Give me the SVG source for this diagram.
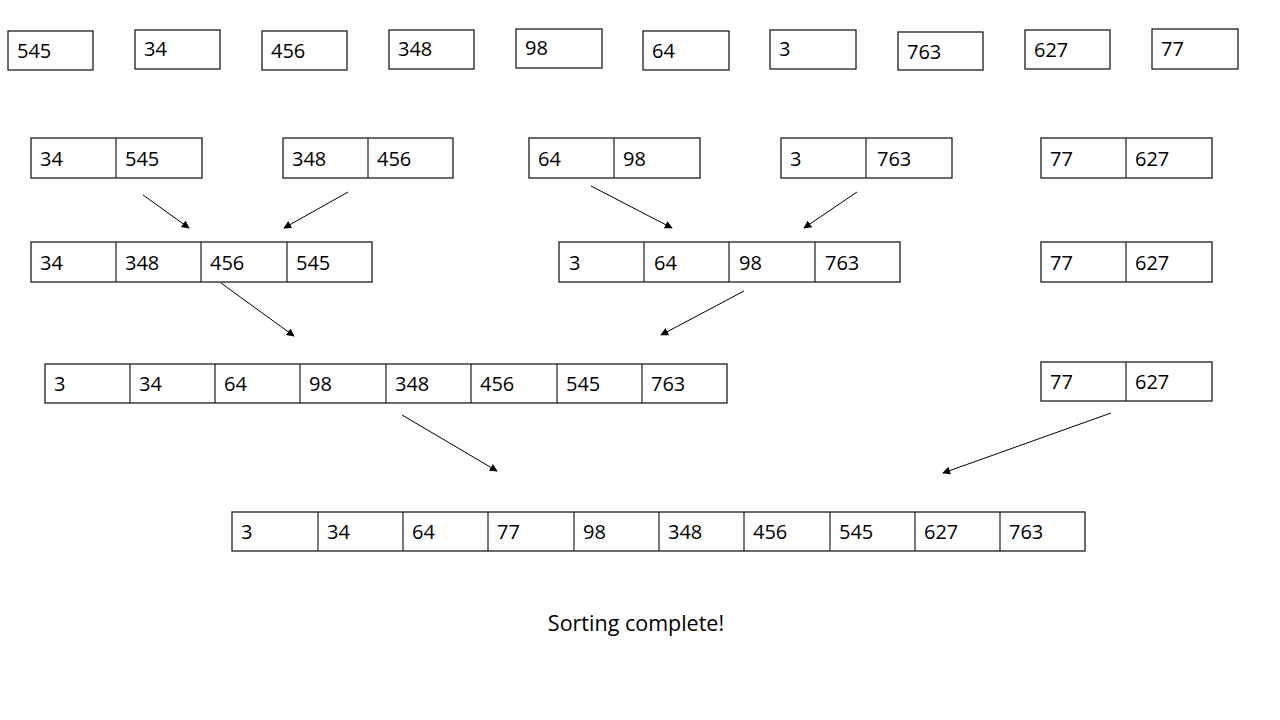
<svg xmlns="http://www.w3.org/2000/svg" width="1280" height="720" viewBox="0 0 1280 720">
  <defs>
    <marker id="arrow" viewBox="0 0 10 10" refX="9" refY="5" markerWidth="8" markerHeight="8" markerUnits="userSpaceOnUse" orient="auto">
      <path d="M0,0 L10,5 L0,10 z" fill="#000"/>
    </marker>
    <style>
      .cell { fill: #fff; stroke: #1e1e1e; stroke-width: 1.3; }
      .div { stroke: #1e1e1e; stroke-width: 1.2; }
      .num { font-family: "Open Sans", "Liberation Sans", sans-serif; font-size: 20px; fill: #000; }
      .caption { font-family: "Open Sans", "Liberation Sans", sans-serif; font-size: 21.5px; fill: #000; }
      .conn { stroke: #000; stroke-width: 1; fill: none; marker-end: url(#arrow); }
    </style>
  </defs>
  <rect width="1280" height="720" fill="#fff"/>

  <!-- Row 1: unsorted single values -->
  <g id="n545"><rect class="cell" x="8" y="31" width="85" height="39"/><text class="num" x="17" y="58">545</text></g>
  <g id="n34"><rect class="cell" x="135" y="30" width="85" height="39"/><text class="num" x="144" y="56">34</text></g>
  <g id="n456"><rect class="cell" x="262" y="31" width="85" height="39"/><text class="num" x="271" y="58">456</text></g>
  <g id="n348"><rect class="cell" x="389" y="30" width="85" height="39"/><text class="num" x="398" y="56">348</text></g>
  <g id="n98"><rect class="cell" x="516" y="29" width="86" height="39"/><text class="num" x="525" y="55">98</text></g>
  <g id="n64"><rect class="cell" x="643" y="31" width="86" height="39"/><text class="num" x="652" y="58">64</text></g>
  <g id="n3"><rect class="cell" x="770" y="30" width="86" height="39"/><text class="num" x="779" y="56">3</text></g>
  <g id="n763"><rect class="cell" x="898" y="32" width="85" height="38"/><text class="num" x="907" y="59">763</text></g>
  <g id="n627"><rect class="cell" x="1025" y="30" width="85" height="39"/><text class="num" x="1034" y="57">627</text></g>
  <g id="n77"><rect class="cell" x="1152" y="29" width="86" height="40"/><text class="num" x="1161" y="56">77</text></g>

  <!-- Row 2: sorted pairs -->
  <g id="p34-545"><rect class="cell" x="31" y="138" width="171" height="40"/><line class="div" x1="116" y1="138" x2="116" y2="178"/>
    <text class="num" x="40" y="166">34</text><text class="num" x="125" y="166">545</text></g>
  <g id="p348-456"><rect class="cell" x="283" y="138" width="170" height="40"/><line class="div" x1="368" y1="138" x2="368" y2="178"/>
    <text class="num" x="292" y="166">348</text><text class="num" x="377" y="166">456</text></g>
  <g id="p64-98"><rect class="cell" x="529" y="138" width="171" height="40"/><line class="div" x1="614" y1="138" x2="614" y2="178"/>
    <text class="num" x="538" y="166">64</text><text class="num" x="623" y="166">98</text></g>
  <g id="p3-763"><rect class="cell" x="781" y="138" width="171" height="40"/><line class="div" x1="866" y1="138" x2="866" y2="178"/>
    <text class="num" x="790" y="166">3</text><text class="num" x="877" y="166">763</text></g>
  <g id="p77-627a"><rect class="cell" x="1041" y="138" width="171" height="40"/><line class="div" x1="1126" y1="138" x2="1126" y2="178"/>
    <text class="num" x="1050" y="166">77</text><text class="num" x="1135" y="166">627</text></g>

  <!-- Row 3: sorted quadruples -->
  <g id="q-left"><rect class="cell" x="31" y="242" width="341" height="40"/>
    <line class="div" x1="116" y1="242" x2="116" y2="282"/><line class="div" x1="201" y1="242" x2="201" y2="282"/><line class="div" x1="287" y1="242" x2="287" y2="282"/>
    <text class="num" x="40" y="270">34</text><text class="num" x="125" y="270">348</text><text class="num" x="210" y="270">456</text><text class="num" x="296" y="270">545</text></g>
  <g id="q-right"><rect class="cell" x="559" y="242" width="341" height="40"/>
    <line class="div" x1="644" y1="242" x2="644" y2="282"/><line class="div" x1="729" y1="242" x2="729" y2="282"/><line class="div" x1="815" y1="242" x2="815" y2="282"/>
    <text class="num" x="569" y="270">3</text><text class="num" x="654" y="270">64</text><text class="num" x="739" y="270">98</text><text class="num" x="825" y="270">763</text></g>
  <g id="p77-627b"><rect class="cell" x="1041" y="242" width="171" height="40"/><line class="div" x1="1126" y1="242" x2="1126" y2="282"/>
    <text class="num" x="1050" y="270">77</text><text class="num" x="1135" y="270">627</text></g>

  <!-- Row 4: sorted eight -->
  <g id="e-left"><rect class="cell" x="45" y="364" width="682" height="39"/>
    <line class="div" x1="130" y1="364" x2="130" y2="403"/><line class="div" x1="215" y1="364" x2="215" y2="403"/><line class="div" x1="300" y1="364" x2="300" y2="403"/>
    <line class="div" x1="386" y1="364" x2="386" y2="403"/><line class="div" x1="471" y1="364" x2="471" y2="403"/><line class="div" x1="557" y1="364" x2="557" y2="403"/><line class="div" x1="642" y1="364" x2="642" y2="403"/>
    <text class="num" x="54" y="391">3</text><text class="num" x="139" y="391">34</text><text class="num" x="224" y="391">64</text><text class="num" x="309" y="391">98</text>
    <text class="num" x="395" y="391">348</text><text class="num" x="480" y="391">456</text><text class="num" x="566" y="391">545</text><text class="num" x="651" y="391">763</text></g>
  <g id="p77-627c"><rect class="cell" x="1041" y="362" width="171" height="39"/><line class="div" x1="1126" y1="362" x2="1126" y2="401"/>
    <text class="num" x="1050" y="389">77</text><text class="num" x="1135" y="389">627</text></g>

  <!-- Row 5: fully sorted -->
  <g id="final"><rect class="cell" x="232" y="512" width="853" height="39"/>
    <line class="div" x1="318" y1="512" x2="318" y2="551"/><line class="div" x1="403" y1="512" x2="403" y2="551"/><line class="div" x1="488" y1="512" x2="488" y2="551"/>
    <line class="div" x1="574" y1="512" x2="574" y2="551"/><line class="div" x1="659" y1="512" x2="659" y2="551"/><line class="div" x1="744" y1="512" x2="744" y2="551"/>
    <line class="div" x1="830" y1="512" x2="830" y2="551"/><line class="div" x1="915" y1="512" x2="915" y2="551"/><line class="div" x1="1000" y1="512" x2="1000" y2="551"/>
    <text class="num" x="241" y="539">3</text><text class="num" x="327" y="539">34</text><text class="num" x="412" y="539">64</text><text class="num" x="497" y="539">77</text>
    <text class="num" x="583" y="539">98</text><text class="num" x="668" y="539">348</text><text class="num" x="753" y="539">456</text><text class="num" x="839" y="539">545</text>
    <text class="num" x="924" y="539">627</text><text class="num" x="1009" y="539">763</text></g>

  <!-- Merge connectors -->
  <g id="connectors">
    <line class="conn" x1="143" y1="195" x2="189" y2="228"/>
    <line class="conn" x1="348" y1="192" x2="284" y2="228"/>
    <line class="conn" x1="591" y1="186" x2="672" y2="228"/>
    <line class="conn" x1="857" y1="192" x2="804" y2="228"/>
    <line class="conn" x1="221" y1="283" x2="294" y2="336"/>
    <line class="conn" x1="744" y1="291" x2="661" y2="335"/>
    <line class="conn" x1="402" y1="415" x2="497" y2="471"/>
    <line class="conn" x1="1111" y1="413" x2="943" y2="473"/>
  </g>

  <text id="caption" class="caption" x="636" y="631" text-anchor="middle">Sorting complete!</text>
</svg>
